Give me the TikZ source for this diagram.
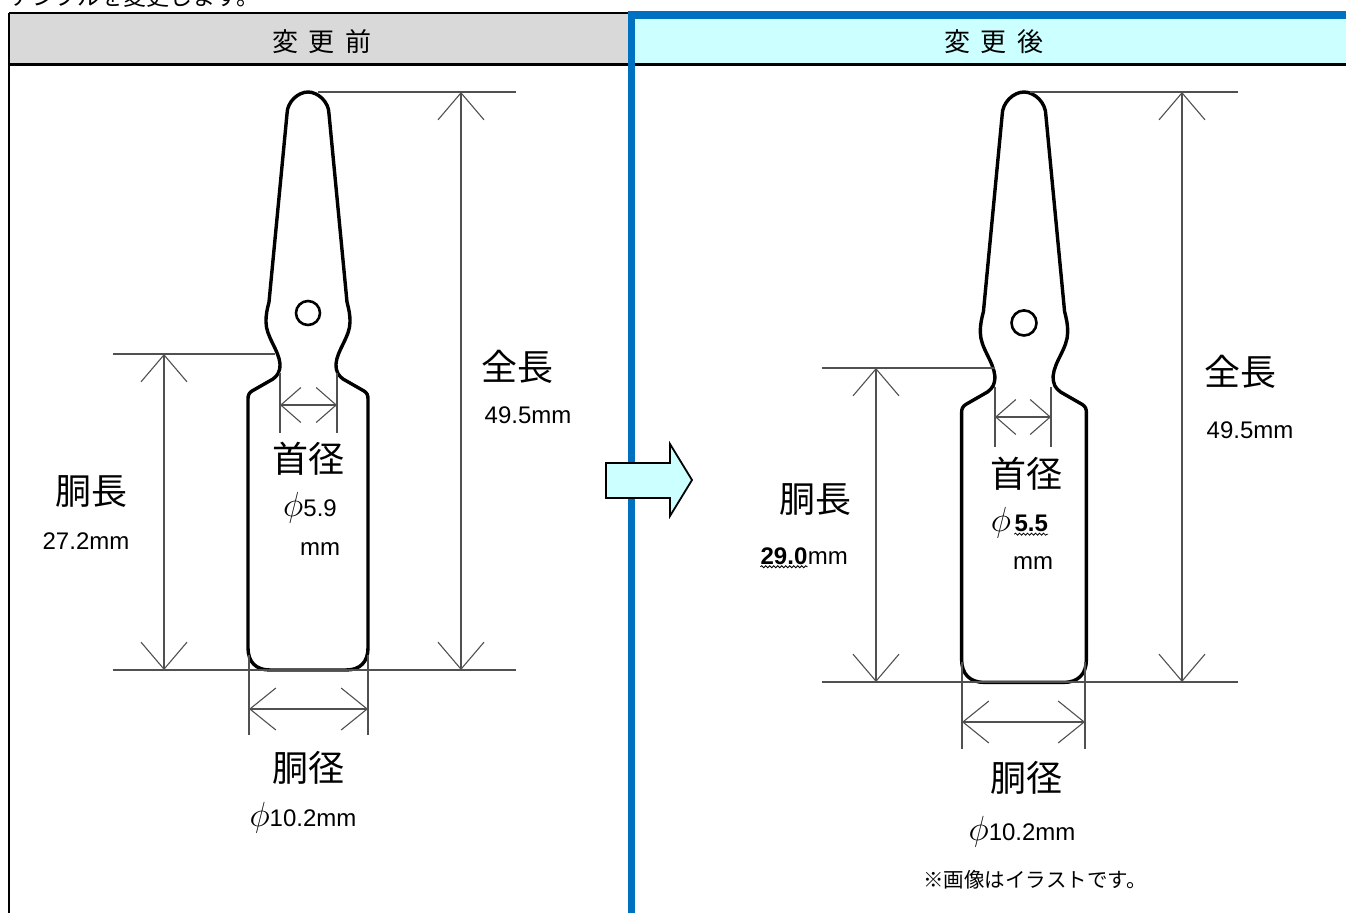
\documentclass[tikz,border=0pt]{standalone}
\usepackage{fontspec}
\setmainfont{Liberation Sans}
\newfontfamily\jp{Noto Sans CJK JP}
\usetikzlibrary{arrows.meta,positioning,decorations.pathmorphing}
\definecolor{hdgray}{HTML}{D9D9D9}
\definecolor{hdcyan}{HTML}{CCFFFF}
\definecolor{frameblue}{HTML}{0070C0}
\definecolor{dimgray}{HTML}{505050}
\newcommand{\dia}{\scalebox{1.4}{$\phi$}}
\tikzset{
  outline/.style={line width=3.4pt, line join=round},
  dimline/.style={draw=dimgray, line width=1.1pt},
  bigtip/.style={dimline, {Straight Barb[length=27pt,width=46pt]}-{Straight Barb[length=27pt,width=46pt]}},
  midtip/.style={dimline, {Straight Barb[length=26pt,width=42pt]}-{Straight Barb[length=26pt,width=42pt]}},
  smalltip/.style={dimline, {Straight Barb[length=20pt,width=35pt]}-{Straight Barb[length=20pt,width=35pt]}},
  jplabel/.style={font=\jp\fontsize{36}{40}\selectfont, inner sep=0pt},
  numlabel/.style={font=\fontsize{24}{28}\selectfont, inner sep=0pt},
  headlabel/.style={font=\jp\fontsize{26}{30}\selectfont, inner sep=0pt},
  wavy/.style={line width=0.8pt, decorate, decoration={snake, amplitude=1pt, segment length=4pt}}
}
% outline of one ampoule, tip at (0,0), #1 = bottom
\newcommand{\ampoule}[1]{%
  \draw[outline] (-38,#1) -- (38,#1) .. controls (52,#1) and (60,{#1-8}) .. (60,{#1-22})
    -- (60,307) .. controls (60,303) and (59,301) .. (56,299)
    -- (35,287) .. controls (30,283) and (28,280) .. (28,272)
    .. controls (29,258) and (42,245) .. (42,230)
    .. controls (42,222) and (41,218) .. (39,210)
    -- (21,22) .. controls (21,10) and (10,0) .. (0,0)
    .. controls (-10,0) and (-21,10) .. (-21,22)
    -- (-39,210) .. controls (-41,218) and (-42,222) .. (-42,230)
    .. controls (-42,245) and (-29,258) .. (-28,272)
    .. controls (-28,280) and (-30,283) .. (-35,287)
    -- (-56,299) .. controls (-59,301) and (-60,303) .. (-60,307)
    -- (-60,{#1-22}) .. controls (-60,{#1-8}) and (-52,#1) .. (-38,#1) -- cycle;
  \draw[line width=2.6pt] (0,221) circle[radius=12pt];
}

\begin{document}
\begin{tikzpicture}[x=1pt,y=-1pt]
\useasboundingbox (0,0) rectangle (1346,913);

\node[anchor=base west, font=\jp\fontsize{23}{26}\selectfont, inner sep=0pt] (intro) at (10,5) {アンプルを変更します。};

% table
\fill[hdgray] (9,13) rectangle (629,64);
\fill[hdcyan] (632,19) rectangle (1346,64);
\draw[line width=1.5pt] (9,13) -- (629,13);
\draw[line width=2.5pt] (9,64.3) -- (1346,64.3);
\draw[line width=2pt] (9,13) -- (9,913);
\fill[frameblue] (628,11) rectangle (1346,19);
\fill[frameblue] (628,11) rectangle (635,913);
\node[headlabel] (hdBefore) at (322,42) {変\hspace{0.42em}更\hspace{0.42em}前};
\node[headlabel] (hdAfter) at (994,42) {変\hspace{0.42em}更\hspace{0.42em}後};

% before
\begin{scope}[shift={(308,92)}]
  \ampoule{578}
\end{scope}
\coordinate (LtopA) at (318,92);  \coordinate (LtopB) at (516,92);
\coordinate (LbotA) at (113,670); \coordinate (LbotB) at (516,670);
\coordinate (LbodyA) at (113,354); \coordinate (LbodyB) at (275,354);
\coordinate (LtotT) at (461,92);  \coordinate (LtotB) at (461,670);
\coordinate (LlenT) at (164,354); \coordinate (LlenB) at (164,670);
\coordinate (LneckL) at (280,405); \coordinate (LneckR) at (337,405);
\coordinate (LdiaL) at (249,709); \coordinate (LdiaR) at (368,709);
\draw[dimline] (LtopA) -- (LtopB);
\draw[dimline] (LbotA) -- (LbotB);
\draw[dimline] (LbodyA) -- (LbodyB);
\draw[dimline] (280,373) -- (280,433);
\draw[dimline] (337,373) -- (337,433);
\draw[dimline] (249,655) -- (249,735);
\draw[dimline] (368,655) -- (368,735);
\draw[bigtip] (LtotT) -- (LtotB);
\draw[bigtip] (LlenT) -- (LlenB);
\draw[smalltip] (LneckL) -- (LneckR);
\draw[midtip] (LdiaL) -- (LdiaR);
\node[jplabel] (LtotJ) at (517,367) {全長};
\node[numlabel] (LtotN) at (528,415) {49.5mm};
\node[jplabel] (LlenJ) at (91,492) {胴長};
\node[numlabel] (LlenN) at (86,541) {27.2mm};
\node[jplabel] (LneckJ) at (308,459) {首径};
\node[numlabel] (LneckN) at (310,508) {\dia5.9};
\node[numlabel] (LneckU) at (320,549) {mm};
\node[jplabel] (LdiaJ) at (308,768) {胴径};
\node[numlabel] (LdiaN) at (303,818) {\dia10.2mm};

% after
\begin{scope}[shift={(1024,92)}, xscale=1.04, yscale=1.045]
  \ampoule{565}
\end{scope}
\coordinate (RtopA) at (1030,92);  \coordinate (RtopB) at (1238,92);
\coordinate (RbotA) at (822,682);  \coordinate (RbotB) at (1238,682);
\coordinate (RbodyA) at (822,368); \coordinate (RbodyB) at (995,368);
\coordinate (RtotT) at (1182,92);  \coordinate (RtotB) at (1182,682);
\coordinate (RlenT) at (876,368);  \coordinate (RlenB) at (876,682);
\coordinate (RneckL) at (995,417); \coordinate (RneckR) at (1051,417);
\coordinate (RdiaL) at (962,722);  \coordinate (RdiaR) at (1085,722);
\draw[dimline] (RtopA) -- (RtopB);
\draw[dimline] (RbotA) -- (RbotB);
\draw[dimline] (RbodyA) -- (RbodyB);
\draw[dimline] (995,387) -- (995,447);
\draw[dimline] (1051,387) -- (1051,447);
\draw[dimline] (962,662) -- (962,749);
\draw[dimline] (1085,662) -- (1085,749);
\draw[bigtip] (RtotT) -- (RtotB);
\draw[bigtip] (RlenT) -- (RlenB);
\draw[smalltip] (RneckL) -- (RneckR);
\draw[midtip] (RdiaL) -- (RdiaR);
\node[jplabel] (RtotJ) at (1240,372) {全長};
\node[numlabel] (RtotN) at (1250,430) {49.5mm};
\node[jplabel] (RlenJ) at (815,500) {胴長};
\node[numlabel, font=\bfseries\fontsize{24}{28}\selectfont] (RlenN) at (784,556) {29.0};
\node[numlabel, base right=0pt of RlenN] (RlenU) {mm};
\draw[wavy] ([yshift=-2.5pt]RlenN.base west) -- ([yshift=-2.5pt]RlenN.base east);
\node[jplabel] (RneckJ) at (1026,474) {首径};
\node[numlabel] (RneckN) at (1001,523) {\dia};
\node[numlabel, font=\bfseries\fontsize{24}{28}\selectfont, base right=3pt of RneckN] (RneckB) {5.5};
\draw[wavy] ([yshift=-2.5pt]RneckB.base west) -- ([yshift=-2.5pt]RneckB.base east);
\node[numlabel] (RneckU) at (1033,563) {mm};
\node[jplabel] (RdiaJ) at (1026,778) {胴径};
\node[numlabel] (RdiaN) at (1022,832) {\dia10.2mm};
\node[font=\jp\fontsize{20.5}{24}\selectfont, inner sep=0pt] (note) at (1035,880) {※画像はイラストです。};

% change arrow
\draw[fill=hdcyan, line width=1.8pt, line join=miter]
  (606,463) -- (670,463) -- (670,444) -- (692,480) -- (670,516) -- (670,498) -- (606,498) -- cycle;
\end{tikzpicture}
\end{document}
